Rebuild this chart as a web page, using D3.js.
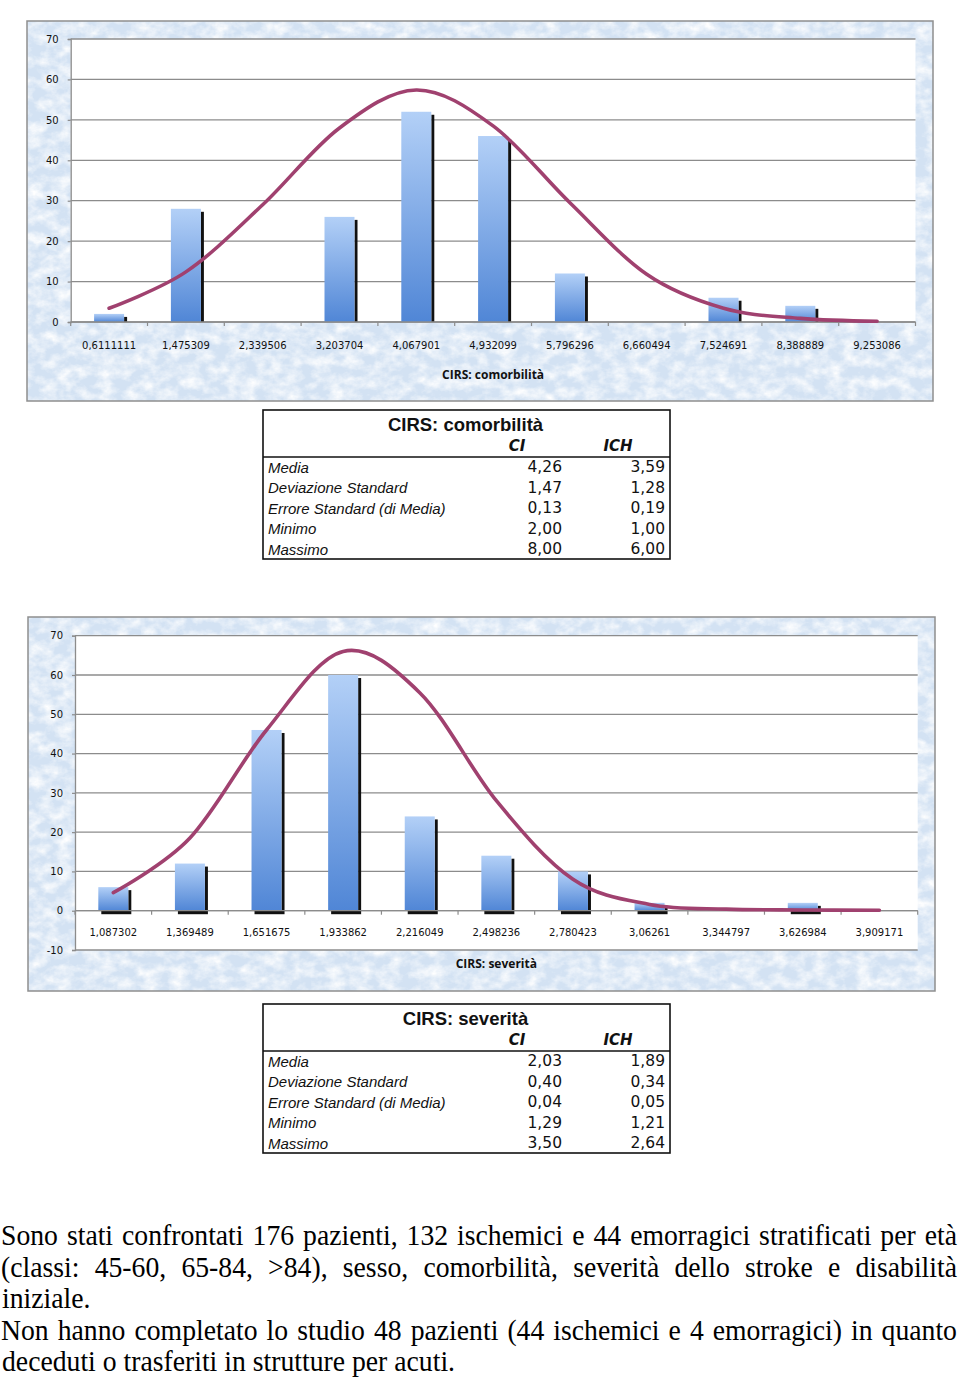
<!DOCTYPE html>
<html>
<head>
<meta charset="utf-8">
<script src="https://cdn.jsdelivr.net/npm/d3@7"></script>
<style>
  html, body { margin: 0; padding: 0; background: #ffffff; }
  svg { display: block; }
</style>
</head>
<body>
<svg id="page" width="960" height="1377"></svg>
<script>
// ---------------- DATA ----------------
const comCategories = ["0,6111111","1,475309","2,339506","3,203704","4,067901","4,932099","5,796296","6,660494","7,524691","8,388889","9,253086"];
const comFrequency  = [2, 28, 0, 26, 52, 46, 12, 0, 6, 4, 0];
const comNormal     = [3.4, 12.4, 29, 48, 57.4, 48.5, 29.5, 11.8, 3.4, 0.9, 0.2];
const comTitle = "CIRS: comorbilità";

const sevCategories = ["1,087302","1,369489","1,651675","1,933862","2,216049","2,498236","2,780423","3,06261","3,344797","3,626984","3,909171"];
const sevFrequency  = [6, 12, 46, 60, 24, 14, 10, 2, 0, 2, 0];
const sevNormal     = [4.6, 18.5, 46, 66, 55.5, 28, 8, 1.6, 0.4, 0.2, 0.1];
const sevTitle = "CIRS: severità";

const comYTicks = [0, 10, 20, 30, 40, 50, 60, 70];
const sevYTicks = [-10, 0, 10, 20, 30, 40, 50, 60, 70];

const statLabels = ["Media", "Deviazione Standard", "Errore Standard (di Media)", "Minimo", "Massimo"];
const statGroups = ["CI", "ICH"];
const comStatsCI  = ["4,26", "1,47", "0,13", "2,00", "8,00"];
const comStatsICH = ["3,59", "1,28", "0,19", "1,00", "6,00"];
const sevStatsCI  = ["2,03", "0,40", "0,04", "1,29", "3,50"];
const sevStatsICH = ["1,89", "0,34", "0,05", "1,21", "2,64"];

const paragraphLines = [
  "Sono stati confrontati 176 pazienti, 132 ischemici e 44 emorragici stratificati per età",
  "(classi: 45-60, 65-84, >84), sesso, comorbilità, severità dello stroke e disabilità",
  "iniziale.",
  "Non hanno completato lo studio 48 pazienti (44 ischemici e 4 emorragici) in quanto",
  "deceduti o trasferiti in strutture per acuti."
];
const paragraphJustify = [true, true, false, true, false];

// ---------------- DRAWING ----------------
const svg = d3.select("#page");
const defs = svg.append("defs");

// textured light-blue background
const tex = defs.append("filter").attr("id", "tex")
  .attr("x", 0).attr("y", 0).attr("width", 1).attr("height", 1);
tex.append("feTurbulence").attr("type", "fractalNoise")
  .attr("baseFrequency", "0.07 0.09").attr("numOctaves", 4).attr("seed", 11).attr("result", "n");
tex.append("feColorMatrix").attr("in", "n").attr("type", "matrix")
  .attr("values", "0 0 0 0 1  0 0 0 0 1  0 0 0 0 1  1.8 0 0 0 -0.62");

const grad = defs.append("linearGradient").attr("id", "barGrad")
  .attr("x1", 0).attr("y1", 0).attr("x2", 0).attr("y2", 1);
grad.append("stop").attr("offset", "0%").attr("stop-color", "#b3d0f7");
grad.append("stop").attr("offset", "100%").attr("stop-color", "#5086d6");

const gridColor = "#8c8c8c";
const curveColor = "#a0416f";

function drawChart(cfg) {
  const g = svg.append("g");
  const [fx0, fy0, fx1, fy1] = cfg.frame;
  g.append("rect").attr("x", fx0).attr("y", fy0).attr("width", fx1 - fx0).attr("height", fy1 - fy0)
    .attr("fill", "#d3e2f3");
  g.append("rect").attr("x", fx0).attr("y", fy0).attr("width", fx1 - fx0).attr("height", fy1 - fy0)
    .attr("fill", "#ffffff").attr("filter", "url(#tex)");
  g.append("rect").attr("x", fx0).attr("y", fy0).attr("width", fx1 - fx0).attr("height", fy1 - fy0)
    .attr("fill", "none").attr("stroke", "#8e8e8e").attr("stroke-width", 1.5);

  const x = d3.scaleBand().domain(cfg.cats).range([cfg.left, cfg.right]);
  const y = d3.scaleLinear().domain(cfg.yDomain).range(cfg.yRange);
  const bw = x.bandwidth();

  // white plot area
  g.append("rect").attr("x", cfg.left).attr("y", y(cfg.yDomain[1]))
    .attr("width", cfg.right - cfg.left).attr("height", y(cfg.whiteFrom) - y(cfg.yDomain[1]))
    .attr("fill", "#ffffff");

  // gridlines
  g.append("g").selectAll("line").data(cfg.yTicks).join("line")
    .attr("x1", cfg.left).attr("x2", cfg.right)
    .attr("y1", d => y(d)).attr("y2", d => y(d))
    .attr("stroke", gridColor).attr("stroke-width", 1.3);

  // y axis
  const yAxis = g.append("g").attr("transform", `translate(${cfg.left},0)`)
    .call(d3.axisLeft(y).tickValues(cfg.yTicks).tickSize(3).tickPadding(9).tickFormat(d => String(d)));
  yAxis.select(".domain").attr("stroke", gridColor).attr("stroke-width", 1.3);
  yAxis.selectAll(".tick line").attr("stroke", gridColor).attr("stroke-width", 1.2);
  yAxis.selectAll(".tick text").attr("font-family", "DejaVu Sans").attr("font-size", 10).attr("fill", "#111");

  // x boundary ticks
  const bounds = d3.range(cfg.cats.length + 1).map(i => x(cfg.cats[0]) + i * x.step());
  g.append("g").selectAll("line").data(bounds).join("line")
    .attr("x1", d => d).attr("x2", d => d)
    .attr("y1", y(0)).attr("y2", y(0) + 4)
    .attr("stroke", gridColor).attr("stroke-width", 1.2);

  // bars
  const barW = 30;
  const bars = g.append("g").selectAll("g").data(cfg.cats.map((c, i) => ({ c, v: cfg.freq[i] })).filter(d => d.v > 0)).join("g");
  if (cfg.bottomShadow) {
    bars.append("rect")
      .attr("x", d => x(d.c) + bw / 2 - barW / 2 + 3).attr("y", y(0))
      .attr("width", barW).attr("height", 3.5).attr("fill", "#111");
  }
  bars.append("rect")
    .attr("x", d => x(d.c) + bw / 2 + barW / 2).attr("y", d => y(d.v) + 3)
    .attr("width", 3).attr("height", d => y(0) - y(d.v) - 3).attr("fill", "#111");
  bars.append("rect")
    .attr("x", d => x(d.c) + bw / 2 - barW / 2).attr("y", d => y(d.v))
    .attr("width", barW).attr("height", d => y(0) - y(d.v)).attr("fill", "url(#barGrad)");

  // axis line at 0 on top of bars
  g.append("line").attr("x1", cfg.left).attr("x2", cfg.right).attr("y1", y(0)).attr("y2", y(0))
    .attr("stroke", gridColor).attr("stroke-width", 1.3);

  // x labels
  g.append("g").selectAll("text").data(cfg.cats).join("text")
    .attr("x", d => x(d) + bw / 2).attr("y", y(0) + cfg.labelOffset)
    .attr("text-anchor", "middle").attr("dominant-baseline", "central")
    .attr("font-family", "DejaVu Sans").attr("font-size", 10).attr("fill", "#111")
    .text(d => d);

  // normal curve (Excel-style smoothed line)
  const line = d3.line().x((d, i) => x(cfg.cats[i]) + bw / 2).y(d => y(d)).curve(d3.curveCardinal.tension(0));
  g.append("path").datum(cfg.curve).attr("d", line)
    .attr("fill", "none").attr("stroke", curveColor).attr("stroke-width", 3.6).attr("stroke-linecap", "round");

  // axis title
  g.append("text").attr("x", (cfg.left + cfg.right) / 2).attr("y", cfg.titleY)
    .attr("text-anchor", "middle").attr("dominant-baseline", "central")
    .attr("font-family", "Open Sans").attr("font-weight", "bold").attr("font-size", 12).attr("fill", "#111")
    .text(cfg.title);
}

drawChart({
  frame: [27, 21, 933, 401], left: 70.7, right: 915.5,
  yDomain: [0, 70], yRange: [322, 39], yTicks: comYTicks, whiteFrom: 0,
  cats: comCategories, freq: comFrequency, curve: comNormal,
  labelOffset: 23, title: comTitle, titleY: 374, bottomShadow: false
});
drawChart({
  frame: [28, 617, 935, 991], left: 75, right: 917.7,
  yDomain: [-10, 70], yRange: [950, 635.7], yTicks: sevYTicks, whiteFrom: -10,
  cats: sevCategories, freq: sevFrequency, curve: sevNormal,
  labelOffset: 22, title: sevTitle, titleY: 963, bottomShadow: true
});

// ---------------- TABLES ----------------
function drawTable(top, title, ci, ich) {
  const g = svg.append("g");
  const left = 263, right = 670, bottom = top + 149;
  g.append("rect").attr("x", left).attr("y", top).attr("width", right - left).attr("height", bottom - top)
    .attr("fill", "#fff").attr("stroke", "#111").attr("stroke-width", 1.6);
  g.append("line").attr("x1", left).attr("x2", right).attr("y1", top + 47).attr("y2", top + 47)
    .attr("stroke", "#111").attr("stroke-width", 1.4);
  g.append("text").attr("x", (left + right) / 2 - 1).attr("y", top + 14).attr("dominant-baseline", "central")
    .attr("text-anchor", "middle").attr("font-family", "Liberation Sans").attr("font-weight", "bold")
    .attr("font-size", 18.5).attr("fill", "#111").text(title);
  const colX = [517, 618];
  g.selectAll("text.hdr").data(statGroups).join("text").attr("class", "hdr")
    .attr("x", (d, i) => colX[i]).attr("y", top + 36).attr("dominant-baseline", "central")
    .attr("text-anchor", "middle").attr("font-family", "DejaVu Sans").attr("font-weight", "bold")
    .attr("font-style", "italic").attr("font-size", 15).attr("fill", "#111").text(d => d);
  const rowY = i => top + 57 + i * 20.5;
  g.selectAll("text.lab").data(statLabels).join("text").attr("class", "lab")
    .attr("x", left + 5).attr("y", (d, i) => rowY(i)).attr("dominant-baseline", "central")
    .attr("font-family", "Liberation Sans").attr("font-style", "italic").attr("font-size", 15)
    .attr("fill", "#111").text(d => d);
  g.selectAll("text.ci").data(ci).join("text").attr("class", "ci")
    .attr("x", 562).attr("y", (d, i) => rowY(i)).attr("dominant-baseline", "central")
    .attr("text-anchor", "end").attr("font-family", "DejaVu Sans").attr("font-size", 15.5)
    .attr("fill", "#111").text(d => d);
  g.selectAll("text.ich").data(ich).join("text").attr("class", "ich")
    .attr("x", 665).attr("y", (d, i) => rowY(i)).attr("dominant-baseline", "central")
    .attr("text-anchor", "end").attr("font-family", "DejaVu Sans").attr("font-size", 15.5)
    .attr("fill", "#111").text(d => d);
}
drawTable(410, comTitle, comStatsCI, comStatsICH);
drawTable(1004, sevTitle, sevStatsCI, sevStatsICH);

// ---------------- PARAGRAPH ----------------
const fontSize = 30;
const measure = svg.append("text").attr("font-family", "Liberation Serif").attr("font-size", fontSize);
function textW(s) { measure.text(s); return measure.node().getComputedTextLength(); }
const sx = 453 / textW(paragraphLines[4]);
const spaceW = textW("a a") - textW("aa");
const baselines = [1245, 1276.5, 1308, 1339.5, 1371];
paragraphLines.forEach((ln, li) => {
  const words = ln.split(" ");
  const ws = words.map(textW);
  let gap = spaceW;
  const x0 = li === 2 || li === 4 ? 2 : 1;
  if (paragraphJustify[li]) {
    const target = (957 - x0) / sx;
    gap = (target - d3.sum(ws)) / (words.length - 1);
  }
  const g = svg.append("g").attr("transform", `translate(${x0},${baselines[li]}) scale(${sx},1)`);
  let cx = 0;
  const pos = ws.map(w => { const p = cx; cx += w + gap; return p; });
  g.selectAll("text").data(words).join("text")
    .attr("x", (d, i) => pos[i]).attr("y", 0)
    .attr("font-family", "Liberation Serif").attr("font-size", fontSize).attr("fill", "#000")
    .text(d => d);
});
measure.remove();
</script>
</body>
</html>
